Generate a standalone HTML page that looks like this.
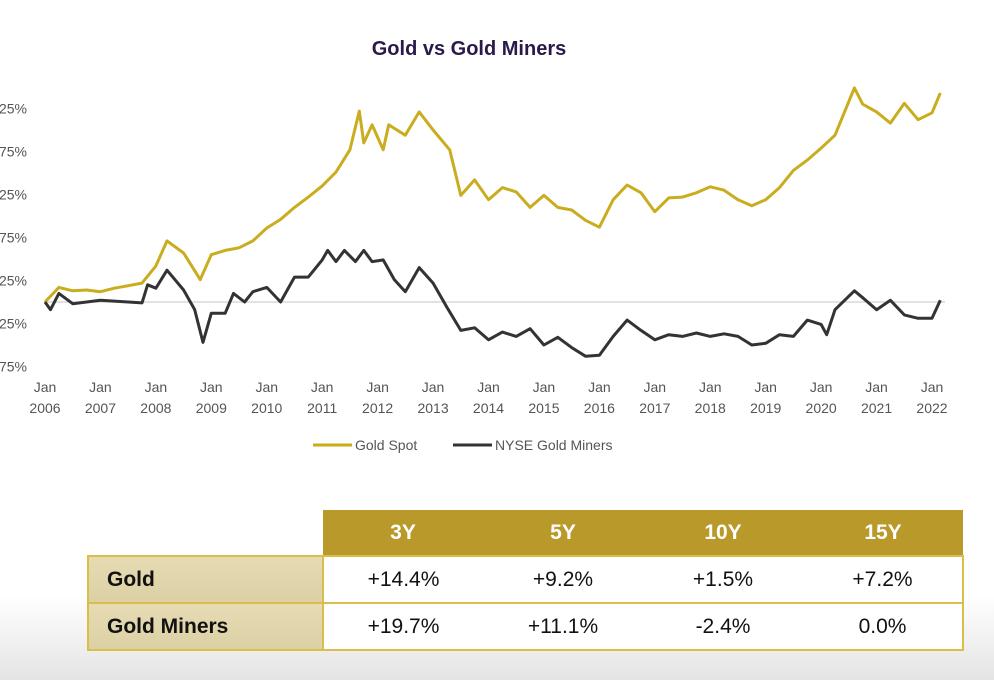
<!DOCTYPE html>
<html><head><meta charset="utf-8">
<style>
html,body{margin:0;padding:0;}
body{width:994px;height:680px;position:relative;overflow:hidden;font-family:"Liberation Sans",sans-serif;background:linear-gradient(to bottom,#fff 0,#fff 595px,#f1f1f1 640px,#e4e4e4 680px);}
#chart{position:absolute;left:0;top:0;}
table{position:absolute;left:87px;top:510px;border-collapse:collapse;font-size:21px;color:#111;}
td{height:45px;text-align:center;padding:0;}
.h{background:#b8992a;color:#fff;font-weight:bold;width:160px;}
.lab{background:linear-gradient(#e6dbb3,#dcd0a5);font-weight:bold;text-align:left;padding-left:18px;width:215px;border:2px solid #d9bf4a;}
.v{background:#fff;border-top:2px solid #d9bf4a;border-bottom:2px solid #d9bf4a;}
.v.last{border-right:2px solid #d9bf4a;}
</style></head><body>
<svg id="chart" width="994" height="480">
<text x="469" y="55" text-anchor="middle" font-size="20" font-weight="bold" fill="#2a1a4a">Gold vs Gold Miners</text>
<g id="grid"></g><g id="yax"></g><g id="xax"></g><g id="lines"></g>
<g>
<line x1="313" y1="445" x2="352" y2="445" stroke="#c9ad1e" stroke-width="3"/>
<text x="355" y="450" font-size="14" fill="#555">Gold Spot</text>
<line x1="453" y1="445" x2="492" y2="445" stroke="#333" stroke-width="3"/>
<text x="495" y="450" font-size="14" fill="#555">NYSE Gold Miners</text>
</g>
</svg>
<table>
<tr><td style="background:transparent;width:235px"></td><td class="h">3Y</td><td class="h">5Y</td><td class="h">10Y</td><td class="h">15Y</td></tr>
<tr><td class="lab">Gold</td><td class="v">+14.4%</td><td class="v">+9.2%</td><td class="v">+1.5%</td><td class="v last">+7.2%</td></tr>
<tr><td class="lab">Gold Miners</td><td class="v">+19.7%</td><td class="v">+11.1%</td><td class="v">-2.4%</td><td class="v last">0.0%</td></tr>
</table>
<script>
const yTicks=[225,175,125,75,25,-25,-75];
const xYears=[2006,2007,2008,2009,2010,2011,2012,2013,2014,2015,2016,2017,2018,2019,2020,2021,2022];
const goldT=[2006,2006.25,2006.5,2006.75,2007,2007.25,2007.5,2007.75,2008,2008.2,2008.5,2008.8,2009,2009.25,2009.5,2009.75,2010,2010.25,2010.5,2010.75,2011,2011.25,2011.5,2011.67,2011.75,2011.9,2012.1,2012.2,2012.5,2012.75,2013,2013.3,2013.5,2013.75,2014,2014.25,2014.5,2014.75,2015,2015.25,2015.5,2015.75,2016,2016.25,2016.5,2016.75,2017,2017.25,2017.5,2017.75,2018,2018.25,2018.5,2018.75,2019,2019.25,2019.5,2019.75,2020,2020.25,2020.6,2020.75,2021,2021.25,2021.5,2021.75,2022,2022.15];
const goldV=[0,17,13,14,12,16,19,22,42,71,57,26,55,60,63,71,86,96,110,122,135,151,177,222,185,206,177,206,194,221,200,177,124,142,119,133,128,110,124,110,107,95,87,119,136,127,105,121,122,127,134,130,119,112,119,133,153,165,179,194,249,230,221,208,231,212,220,243];
const minT=[2006,2006.1,2006.25,2006.5,2006.75,2007,2007.5,2007.75,2007.85,2008,2008.2,2008.5,2008.7,2008.85,2009,2009.25,2009.4,2009.6,2009.75,2010,2010.25,2010.5,2010.75,2011,2011.1,2011.25,2011.4,2011.6,2011.75,2011.9,2012.1,2012.3,2012.5,2012.75,2013,2013.25,2013.5,2013.75,2014,2014.25,2014.5,2014.75,2015,2015.25,2015.5,2015.75,2016,2016.25,2016.5,2016.75,2017,2017.25,2017.5,2017.75,2018,2018.25,2018.5,2018.75,2019,2019.25,2019.5,2019.75,2020,2020.1,2020.25,2020.6,2020.75,2021,2021.25,2021.5,2021.75,2022,2022.15];
const minV=[0,-9,10,-2,0,2,0,-1,20,16,37,14,-9,-47,-13,-13,10,0,12,17,0,29,29,49,60,47,60,47,60,47,49,26,12,40,22,-6,-33,-30,-44,-35,-40,-31,-50,-41,-53,-63,-62,-40,-21,-33,-44,-38,-40,-36,-40,-37,-40,-50,-48,-38,-40,-21,-26,-38,-9,13,5,-9,2,-15,-19,-19,2];
const NS='http://www.w3.org/2000/svg';
const X=t=>45+(t-2006)*(932-45)/16;
const Y=v=>302-v*0.86;
function mk(tag,attrs,parent){const e=document.createElementNS(NS,tag);for(const k in attrs)e.setAttribute(k,attrs[k]);parent.appendChild(e);return e;}
const grid=document.getElementById('grid'),yax=document.getElementById('yax'),xax=document.getElementById('xax'),lines=document.getElementById('lines');
const zl=mk('line',{x1:45,x2:945,y1:Y(0),y2:Y(0),stroke:'#d8d8d8','stroke-width':1.5},grid);


yTicks.forEach(v=>{const t=mk('text',{x:27,y:Y(v)+5,'text-anchor':'end','font-size':14,fill:'#555'},yax);t.textContent=v+'%';

});
xYears.forEach(y=>{const g=mk('text',{x:X(y),y:392,'text-anchor':'middle','font-size':14,fill:'#555'},xax);


const a=mk('tspan',{x:X(y),dy:0},g);a.textContent='Jan';const b=mk('tspan',{x:X(y),dy:21},g);b.textContent=String(y);});
function path(ts,vs){return ts.map((t,i)=>(i?'L':'M')+X(t).toFixed(1)+' '+Y(vs[i]).toFixed(1)).join(' ');}
const gp=mk('path',{d:path(goldT,goldV),fill:'none',stroke:'#c9ad1e','stroke-width':3,'stroke-linejoin':'round'},lines);


const mp=mk('path',{d:path(minT,minV),fill:'none',stroke:'#333','stroke-width':3,'stroke-linejoin':'round'},lines);


</script>
</body></html>
